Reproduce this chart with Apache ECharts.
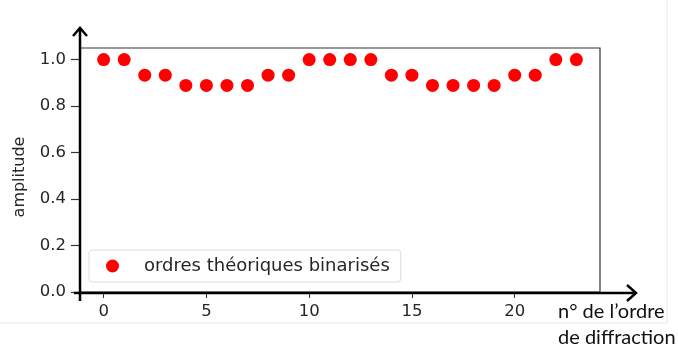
<!DOCTYPE html>
<html><head><meta charset="utf-8">
<script src="https://cdn.jsdelivr.net/npm/echarts@6/dist/echarts.min.js"></script>
<style>html,body{margin:0;padding:0;background:#fff}#c{width:678px;height:349px}</style>
</head><body><div id="c"></div>
<script>
const orders = [0,1,2,3,4,5,6,7,8,9,10,11,12,13,14,15,16,17,18,19,20,21,22,23];
const amplitudes = [1.0,1.0,0.933,0.933,0.889,0.889,0.889,0.889,0.933,0.933,1.0,1.0,1.0,1.0,0.933,0.933,0.889,0.889,0.889,0.889,0.933,0.933,1.0,1.0];
const xTicks = [0,5,10,15,20];
const yTicks = [0,0.2,0.4,0.6,0.8,1.0];
const seriesName = 'ordres théoriques binarisés';
const yTitle = 'amplitude';
const xTitle = ['n° de l’ordre', 'de diffraction'];

const chart = echarts.init(document.getElementById('c'), null, {renderer:'canvas'});
const tickFont = {fontFamily:'DejaVu Sans', fontSize:16.5, color:'#262626'};
chart.setOption({
  animation:false,
  grid:{left:80, right:78, top:48, bottom:57, show:true, borderColor:'#333', borderWidth:1.2, backgroundColor:'transparent'},
  xAxis:{type:'value', min:-1.15, max:24.15,
    axisLine:{show:false, onZero:false},
    splitLine:{show:false},
    axisTick:{show:true, customValues:xTicks, length:6, lineStyle:{color:'#333'}},
    axisLabel:Object.assign({customValues:xTicks, margin:11}, tickFont)
  },
  yAxis:{type:'value', min:0, max:1.05,
    axisLine:{show:false, onZero:false},
    splitLine:{show:false},
    axisTick:{show:true, customValues:yTicks, length:9, lineStyle:{color:'#333', width:1.2}},
    axisLabel:Object.assign({customValues:yTicks, margin:14, formatter:v=>v.toFixed(1)}, tickFont),
    name:yTitle, nameLocation:'middle', nameGap:52, nameRotate:90,
    nameTextStyle:{fontFamily:'DejaVu Sans', fontSize:16, color:'#262626', padding:[0,14,0,0]}
  },
  legend:{show:true, left:89, top:250, orient:'vertical', padding:[7,11,7,17],
    borderColor:'#ddd', borderWidth:1, borderRadius:3, backgroundColor:'#fff',
    itemWidth:13, itemHeight:13, itemGap:0,
    textStyle:{fontFamily:'DejaVu Sans', fontSize:18, color:'#262626', padding:[0,0,0,20]},
    data:[{name:seriesName, icon:'circle'}]
  },
  series:[{type:'scatter', name:seriesName, symbol:'circle', symbolSize:13,
    itemStyle:{color:'#ff0000', opacity:1},
    data:orders.map((o,i)=>[o, amplitudes[i]])}],
  graphic:[
    {type:'line', shape:{x1:667,y1:0,x2:667,y2:323}, style:{stroke:'#e6e6e6', lineWidth:1}, silent:true},
    {type:'line', shape:{x1:0,y1:323,x2:667,y2:323}, style:{stroke:'#e6e6e6', lineWidth:1}, silent:true},
    {type:'line', shape:{x1:80,y1:301,x2:80,y2:28}, style:{stroke:'#000', lineWidth:2.5}, silent:true, z:100},
    {type:'polyline', shape:{points:[[73,36],[80,28],[87,36]]}, style:{stroke:'#000', lineWidth:2.5, fill:null}, silent:true, z:100},
    {type:'line', shape:{x1:74,y1:293,x2:635,y2:293}, style:{stroke:'#000', lineWidth:2.5}, silent:true, z:100},
    {type:'polyline', shape:{points:[[627,285],[636,293],[627,301]]}, style:{stroke:'#000', lineWidth:2.5, fill:null}, silent:true, z:100},
    {type:'text', x:558, y:302, style:{text:xTitle[0], font:'20px Lato', fill:'#111'}, silent:true},
    {type:'text', x:558, y:328, style:{text:xTitle[1], font:'20px Lato', fill:'#111'}, silent:true}
  ]
});
</script></body></html>
